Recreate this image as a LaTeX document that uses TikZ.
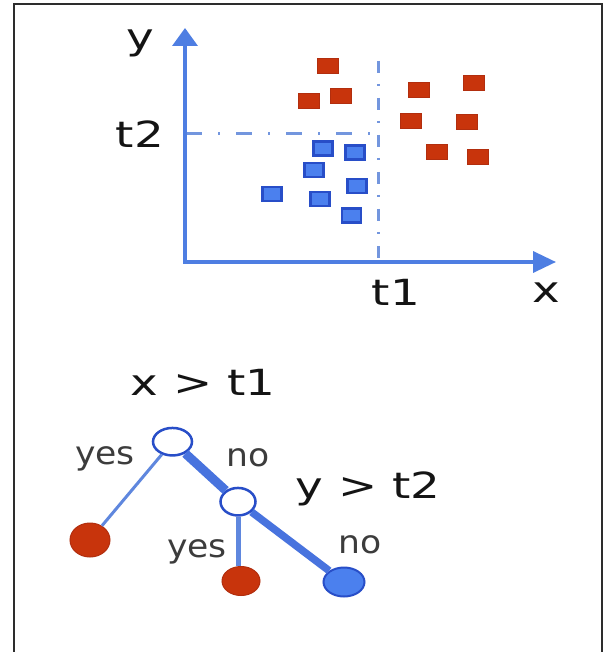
\documentclass[tikz,border=0pt]{standalone}
\usepackage{fontspec}
\setmainfont{DejaVu Sans}
\newfontfamily\mainfnt[FakeStretch=1.3]{DejaVu Sans}
\newfontfamily\smallfnt[FakeStretch=1.08]{DejaVu Sans}
\usetikzlibrary{arrows.meta,shapes.geometric}
\definecolor{axisblue}{RGB}{78,126,226}
\definecolor{dashblue}{RGB}{115,150,222}
\definecolor{redpt}{RGB}{200,52,12}
\definecolor{redbd}{RGB}{178,46,14}
\definecolor{bluept}{RGB}{75,128,238}
\definecolor{bluebd}{RGB}{40,78,200}
\definecolor{edgeblue}{RGB}{72,115,222}
\definecolor{thinblue}{RGB}{95,135,222}
\definecolor{framegray}{RGB}{45,45,45}
\definecolor{txtdark}{RGB}{20,20,20}
\definecolor{txtgray}{RGB}{60,60,60}
\tikzset{
  bigtext/.style={font=\mainfnt\fontsize{36}{40}\selectfont, text=txtdark, inner sep=0pt},
  smalltext/.style={font=\smallfnt\fontsize{32}{36}\selectfont, text=txtgray, inner sep=0pt},
  axisline/.style={draw=axisblue, line width=3.5pt},
  threshold/.style={draw=dashblue, line width=3pt},
  redsq/.style={rectangle, minimum width=21pt, minimum height=15pt, inner sep=0pt, fill=redpt, draw=redbd, line width=1pt},
  bluesq/.style={rectangle, minimum width=19pt, minimum height=14pt, inner sep=0pt, fill=bluept, draw=bluebd, line width=2.5pt},
  decision/.style={ellipse, draw=bluebd, fill=white, line width=2.5pt, inner sep=0pt},
  redleaf/.style={ellipse, fill=redpt, draw=redbd, line width=1pt, inner sep=0pt},
  blueleaf/.style={ellipse, fill=bluept, draw=bluebd, line width=2pt, inner sep=0pt},
  thinedge/.style={draw=thinblue, line width=3pt},
  midedge/.style={draw=thinblue, line width=5pt},
  thickedge/.style={draw=edgeblue, line width=9pt},
  thick2edge/.style={draw=edgeblue, line width=7.5pt}
}
\begin{document}
\begin{tikzpicture}[x=1pt,y=-1pt]
\useasboundingbox (0,0) rectangle (603,652);
\fill[white] (0,0) rectangle (603,652);
% frame
\draw[framegray, line width=2pt] (14,653) -- (14,4) -- (602,4) -- (602,653);

% thresholds
\draw[threshold, dash pattern=on 12pt off 11pt on 2pt off 12pt] (378,61) -- (378,262);
\draw[threshold, dash pattern=on 16pt off 16pt on 2pt off 16pt] (186,134) -- (376,134);

% axes
\coordinate (origin) at (185,262);
\coordinate (ytip) at (185,28);
\coordinate (xtip) at (556,262);
\draw[axisline, -{Triangle[length=18pt,width=25pt]}] (185,263.75) -- (ytip);
\draw[axisline, -{Triangle[length=23pt,width=21pt]}] (origin) -- (xtip);

% axis labels
\node[bigtext] (ylab) at (140,43) {y};
\node[bigtext] (t2lab) at (140,134) {t2};
\node[bigtext] (t1lab) at (396,292) {t1};
\node[bigtext] (xlab) at (546,293) {x};

% red points
\node[redsq] (r1) at (328,66) {};
\node[redsq] (r2) at (309,101.5) {};
\node[redsq] (r3) at (341,96) {};
\node[redsq] (r4) at (419,90) {};
\node[redsq] (r5) at (474,83) {};
\node[redsq] (r6) at (410.5,121.5) {};
\node[redsq] (r7) at (467,122.5) {};
\node[redsq] (r8) at (437,152.5) {};
\node[redsq] (r9) at (478,157) {};
% blue points
\node[bluesq] (b1) at (323,148.5) {};
\node[bluesq] (b2) at (355,152.5) {};
\node[bluesq] (b3) at (314,170) {};
\node[bluesq] (b4) at (357,186) {};
\node[bluesq] (b5) at (272,194) {};
\node[bluesq] (b6) at (320,199) {};
\node[bluesq] (b7) at (351.5,215.5) {};

% tree
\node[decision, minimum width=39pt, minimum height=27.5pt] (root) at (172.5,441.7) {};
\node[decision, minimum width=35pt, minimum height=27.5pt] (second) at (238,501.7) {};
\node[redleaf, minimum width=40pt, minimum height=34pt] (leafa) at (90,540) {};
\node[redleaf, minimum width=38pt, minimum height=29pt] (leafb) at (241,581) {};
\node[blueleaf, minimum width=41pt, minimum height=29pt] (leafc) at (344,582) {};

\draw[thinedge] (root) -- (leafa);
\draw[thickedge] (root) -- (second);
\draw[midedge] (second.south) -- (second.south |- leafb.north);
\draw[thick2edge] (second) -- (leafc);

% tree labels
\node[bigtext] (q1) at (203,382) {x > t1};
\node[bigtext] (q2) at (368,488.5) {y > t2};
\node[smalltext] (yes1) at (105,459) {yes};
\node[smalltext] (no1) at (248,458) {no};
\node[smalltext] (yes2) at (197,552) {yes};
\node[smalltext] (no2) at (360,545) {no};
\end{tikzpicture}
\end{document}
